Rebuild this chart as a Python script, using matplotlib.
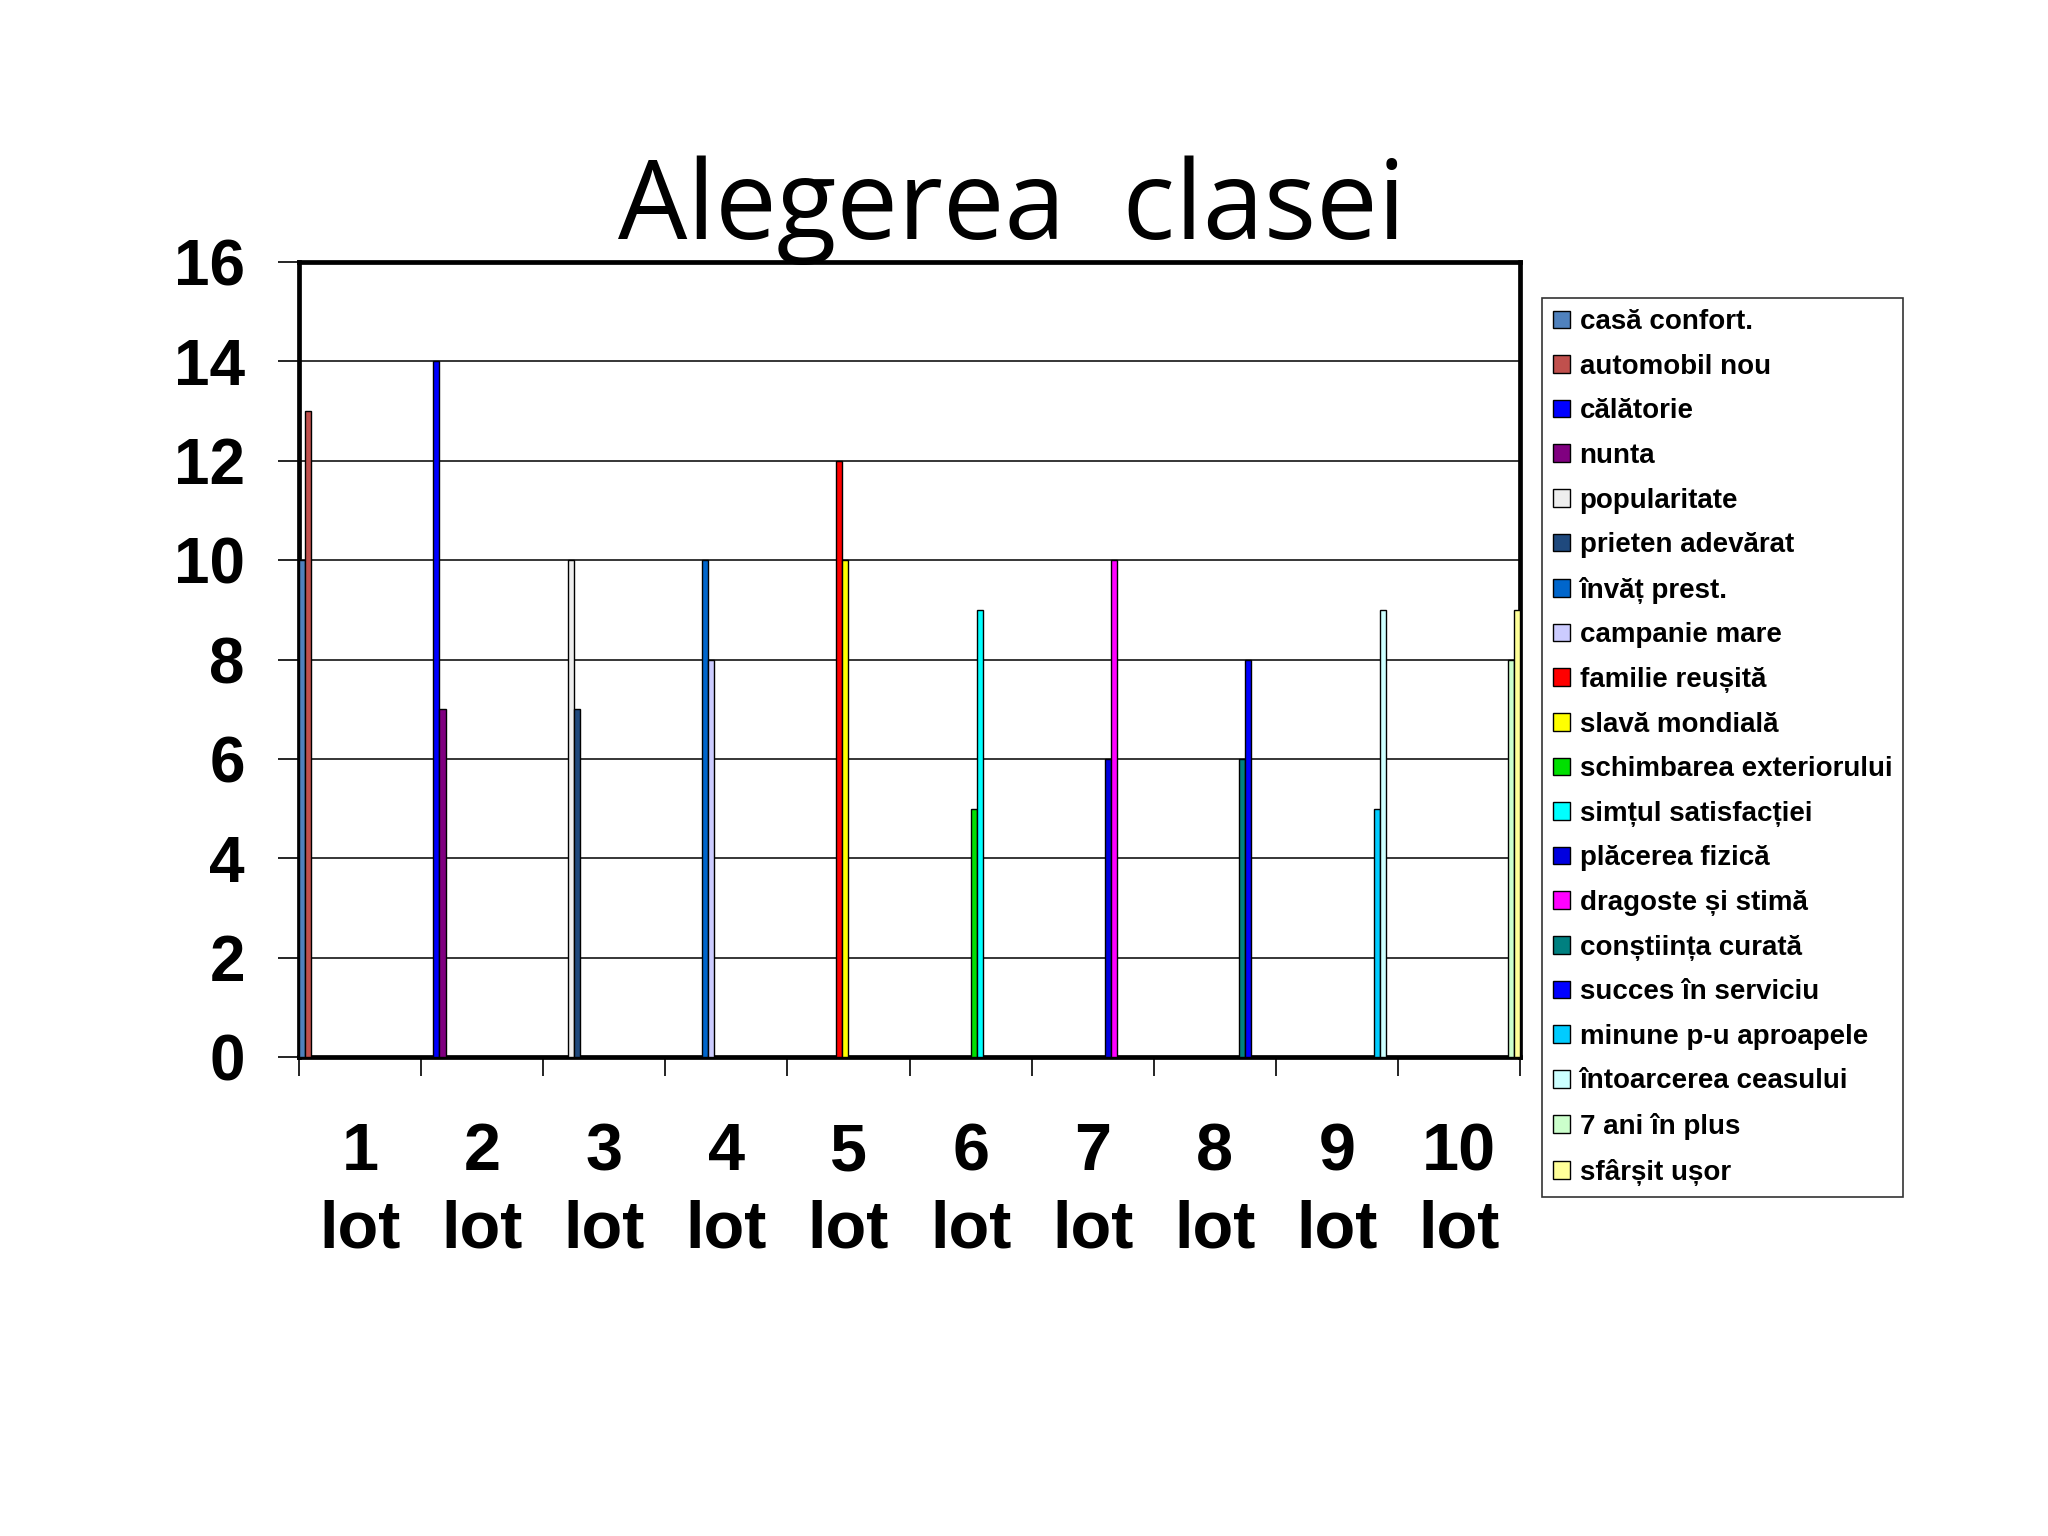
import numpy as np
import matplotlib
matplotlib.use("Agg")
import matplotlib.pyplot as plt

# data
lots = ["1\nlot", "2\nlot", "3\nlot", "4\nlot", "5\nlot",
        "6\nlot", "7\nlot", "8\nlot", "9\nlot", "10\nlot"]
series_names = ["casă confort.", "automobil nou", "călătorie", "nunta",
                "popularitate", "prieten adevărat", "învăț prest.", "campanie mare",
                "familie reușită", "slavă mondială", "schimbarea exteriorului",
                "simțul satisfacției", "plăcerea fizică", "dragoste și stimă",
                "conștiința curată", "succes în serviciu", "minune p-u aproapele",
                "întoarcerea ceasului", "7 ani în plus", "sfârșit ușor"]
series_values = [10, 13, 14, 7, 10, 7, 10, 8, 12, 10,
                 5, 9, 6, 10, 6, 8, 5, 9, 8, 9]
series_lot = [0, 0, 1, 1, 2, 2, 3, 3, 4, 4,
              5, 5, 6, 6, 7, 7, 8, 8, 9, 9]
series_colors = ["#4F81BD", "#C0504D", "#0000FF", "#800080", "#EEEEEE",
                 "#1F497D", "#0066CC", "#CCCCFF", "#FF0000", "#FFFF00",
                 "#00E000", "#00FFFF", "#0000E0", "#FF00FF", "#008080",
                 "#0000FF", "#00CCFF", "#CCFFFF", "#CCFFCC", "#FFFF99"]

fig = plt.figure(figsize=(20.48, 15.36), dpi=100)
ax = fig.add_axes([0.1460, 0.3118, 0.5962, 0.5176])

n = len(series_names)
w = 1.0 / n
for k in range(n):
    ax.bar(series_lot[k] + k * w, series_values[k], width=w, align="edge",
           color=series_colors[k], edgecolor="black", linewidth=1.0,
           label=series_names[k], zorder=3)

ax.set_xlim(0, len(lots))
ax.set_ylim(0, 16)
ax.set_yticks(np.arange(0, 17, 2))
ax.yaxis.grid(True, color="black", linewidth=1.1, zorder=0)
ax.set_axisbelow(True)

ax.set_xticks(np.arange(0, len(lots) + 1))
ax.set_xticklabels([])
ax.set_xticks(np.arange(len(lots)) + 0.5, minor=True)
ax.set_xticklabels(lots, minor=True, fontsize=48, fontweight="bold",
                   family="Liberation Sans", linespacing=1.32)
ax.tick_params(axis="x", which="major", direction="out", length=14, width=1.2)
ax.tick_params(axis="x", which="minor", length=0, pad=47)
ax.tick_params(axis="y", direction="out", length=15, width=1.2, pad=24)
for lab in ax.get_yticklabels():
    lab.set_fontsize(46)
    lab.set_fontweight("bold")
    lab.set_family("Liberation Sans")

for s in ax.spines.values():
    s.set_linewidth(3.4)
    s.set_color("black")

fig.text(0.494, 1 - 239 / 1536, "Alegerea  clasei", fontsize=79,
         family="Open Sans", ha="center", va="baseline")

leg = ax.legend(loc="upper left", bbox_to_anchor=(1542 / 2048, 1 - 298 / 1536),
                bbox_transform=fig.transFigure, borderaxespad=0,
                prop={"family": ["Liberation Sans", "DejaVu Sans"],
                      "weight": "bold", "size": 20},
                handlelength=0.6, handleheight=0.6, handletextpad=0.35,
                labelspacing=0.67, borderpad=0.4, fancybox=False,
                frameon=True, edgecolor="black")
leg.get_frame().set_linewidth(1.2)
for h in leg.legend_handles:
    h.set_linewidth(1.0)

fig.savefig("out.png", dpi=100, facecolor="white")
